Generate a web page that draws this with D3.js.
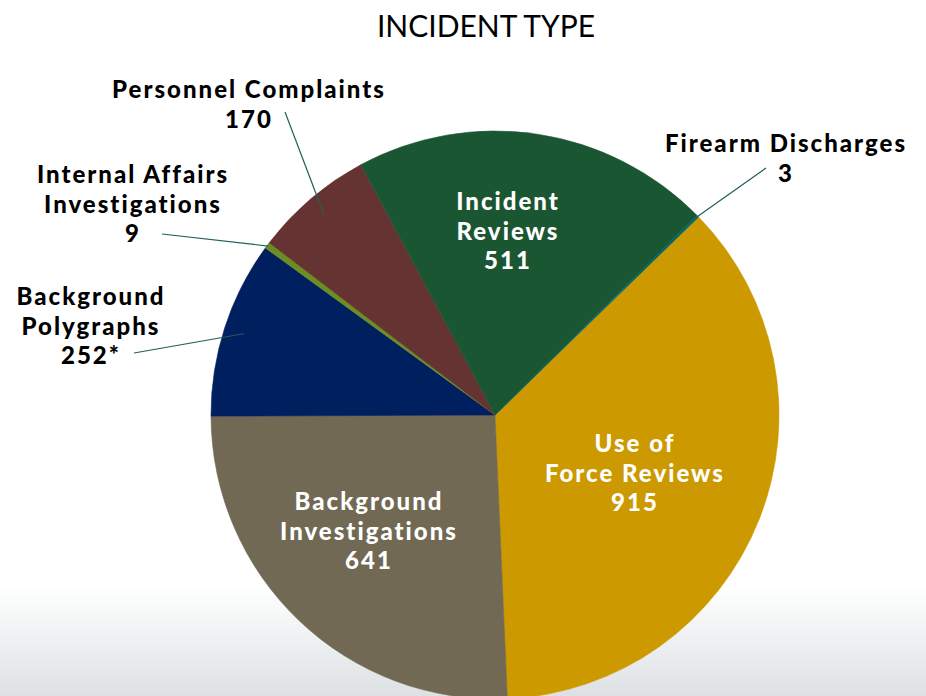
<!DOCTYPE html>
<html>
<head>
<meta charset="utf-8">
<script src="https://cdn.jsdelivr.net/npm/d3@7"></script>
<style>
  html, body { margin: 0; padding: 0; background: #fff; }
  svg { display: block; font-family: Lato, "Open Sans", sans-serif; font-variant-ligatures: none; }
</style>
</head>
<body>
<svg width="926" height="696"></svg>
<script>
const svg = d3.select("svg");
const width = +svg.attr("width");
const height = +svg.attr("height");

// data, clockwise from Use of Force
const categories = ["Use of Force Reviews", "Background Investigations", "Background Polygraphs",
  "Internal Affairs Investigations", "Personnel Complaints", "Incident Reviews", "Firearm Discharges"];
const values = [915, 641, 252, 9, 170, 511, 3];
const valueLabels = ["915", "641", "252*", "9", "170", "511", "3"];
const labelLines = [
  ["Use of", "Force Reviews"],
  ["Background", "Investigations"],
  ["Background", "Polygraphs"],
  ["Internal Affairs", "Investigations"],
  ["Personnel Complaints"],
  ["Incident", "Reviews"],
  ["Firearm Discharges"]
];
const colors = ["#cc9900", "#716954", "#001f5f", "#6b8e23", "#663333", "#1b5632", "#006666"];

const cx = 495, cy = 415, r = 284;
const startDeg = 45.8;

// background: fade to grey at the bottom
const defs = svg.append("defs");
const grad = defs.append("linearGradient").attr("id", "bg").attr("x1", 0).attr("y1", 0).attr("x2", 0).attr("y2", 1);
grad.append("stop").attr("offset", "0%").attr("stop-color", "#ffffff");
grad.append("stop").attr("offset", "84%").attr("stop-color", "#ffffff");
grad.append("stop").attr("offset", "93%").attr("stop-color", "#eceff0");
grad.append("stop").attr("offset", "100%").attr("stop-color", "#dde1e3");
svg.append("rect").attr("width", width).attr("height", height).attr("fill", "url(#bg)");

svg.append("text")
  .attr("x", 486).attr("y", 37)
  .attr("text-anchor", "middle")
  .attr("font-size", 30).attr("font-weight", 400)
  .attr("fill", "#000")
  .text("INCIDENT TYPE");

const pie = d3.pie().sort(null)
  .startAngle(startDeg * Math.PI / 180)
  .endAngle((startDeg + 360) * Math.PI / 180);
const arcs = pie(values);
const arc = d3.arc().innerRadius(0).outerRadius(r);

const g = svg.append("g").attr("transform", `translate(${cx},${cy})`);
g.selectAll("path.slice")
  .data(arcs)
  .join("path")
  .attr("class", "slice")
  .attr("fill", (d, i) => colors[i])
  .attr("stroke", (d, i) => colors[i])
  .attr("stroke-width", 0.6)
  .attr("d", arc);

// label layout: [x, y of first line, colour, leader radius factor or null]
const labelPos = [
  [634, 452, "#fff", null],
  [368, 510, "#fff", null],
  [90, 305, "#000", 0.93],
  [132, 183, "#000", 0.995],
  [248, 98, "#000", 0.93],
  [507, 210, "#fff", null],
  [785, 152, "#000", 1.0]
];
const leaderStart = [null, null, [134, 353], [162, 234], [285, 112], null, [766, 168]];
const lineH = 29.5;

arcs.forEach((d, i) => {
  const [lx, ly, col, lf] = labelPos[i];
  if (lf != null) {
    const p = d3.arc().innerRadius(r * lf).outerRadius(r * lf).centroid(d);
    svg.append("line")
      .attr("x1", leaderStart[i][0]).attr("y1", leaderStart[i][1])
      .attr("x2", cx + p[0]).attr("y2", cy + p[1])
      .attr("stroke", "#1f5f5a").attr("stroke-width", 1.2);
  }
  const t = svg.append("text")
    .attr("text-anchor", "middle")
    .attr("font-size", 24).attr("font-weight", 900)
    .attr("letter-spacing", 2)
    .attr("fill", col);
  labelLines[i].concat([valueLabels[i]]).forEach((s, k) => {
    t.append("tspan").attr("x", lx + 1).attr("y", ly + k * lineH).text(s);
  });
});
</script>
</body>
</html>
